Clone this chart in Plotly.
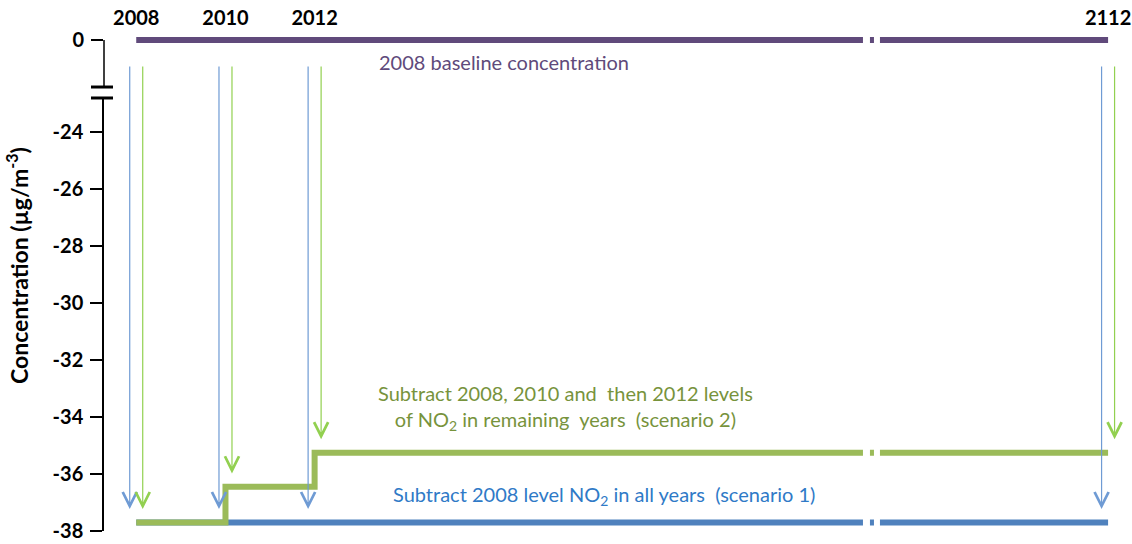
import plotly.graph_objects as go

# data
YEARS = [2008, 2010, 2012, 2112]
BASELINE = [0, 0, 0, 0]
SCENARIO1 = [-37.7, -37.7, -37.7, -37.7]
SCENARIO2 = [-37.7, -36.45, -35.25, -35.25]
Y_TICKS = [-38, -36, -34, -32, -30, -28, -26, -24]

PURPLE = "#604a7b"
GREEN = "#9bbb59"
BLUE = "#4f81bd"
ARROW_BLUE = "#6f9bd4"
ARROW_GREEN = "#92d050"
FONT = "Lato"

X_RANGE = ["2007-04-12", "2112-04-24"]
X_BREAK = ["2024-07-01", "2106-09-15"]
Y_RANGE = [-38, -22.807]
Y2_RANGE = [-1.649, 0.351]
ARROW_TOP = -21.65
ARROW_GAP = 0.47


def yr(y):
    return f"{y}-01-01"


xs = [yr(y) for y in YEARS]

fig = go.Figure()
fig.add_trace(go.Scatter(x=xs, y=BASELINE, xaxis="x", yaxis="y2", mode="lines",
                         line=dict(color=PURPLE, width=6), hoverinfo="skip"))
fig.add_trace(go.Scatter(x=xs, y=SCENARIO1, xaxis="x", yaxis="y", mode="lines",
                         line=dict(color=BLUE, width=6, shape="hv"), hoverinfo="skip"))
fig.add_trace(go.Scatter(x=xs, y=SCENARIO2, xaxis="x", yaxis="y", mode="lines",
                         line=dict(color=GREEN, width=6, shape="hv"), hoverinfo="skip"))

# arrows: blue = scenario 1, green = scenario 2
annotations = []
for x, s1, s2 in zip(xs, SCENARIO1, SCENARIO2):
    for level, col, shift in [(s1, ARROW_BLUE, -6.5), (s2, ARROW_GREEN, 6.5)]:
        annotations.append(dict(
            x=x, y=level + ARROW_GAP, ax=x, ay=ARROW_TOP,
            xref="x", yref="y", axref="x", ayref="y", xshift=shift,
            text="", showarrow=True, arrowhead=5, arrowsize=2.3,
            arrowwidth=1.2, arrowcolor=col, standoff=0,
        ))

annotations += [
    dict(x="2016-04-01", y=-0.77, xref="x", yref="y2", showarrow=False,
         text="2008 baseline concentration", font=dict(family=FONT, size=20, color=PURPLE)),
    dict(x="2017-08-15", y=-33.68, xref="x", yref="y", showarrow=False,
         text="Subtract 2008, 2010 and  then 2012 levels<br>of NO<sub>2</sub> in remaining  years  (scenario 2)",
         font=dict(family=FONT, size=20, color="#77933c")),
    dict(x="2018-07-01", y=-36.77, xref="x", yref="y", showarrow=False,
         text="Subtract 2008 level NO<sub>2</sub> in all years  (scenario 1)",
         font=dict(family=FONT, size=20, color="#2f7ac7")),
    dict(x=-0.0845, y=0.531, xref="paper", yref="paper", showarrow=False, textangle=-90,
         xanchor="center", yanchor="middle",
         text="<b>Concentration (µg/m<sup>-3</sup>)</b>",
         font=dict(family=FONT, size=23, color="black")),
]

shapes = [
    # top part of the y axis line
    dict(type="line", xref="paper", yref="y2", x0=0, x1=0, y0=0, y1=Y2_RANGE[0],
         line=dict(color="black", width=1.5)),
    # axis break marks
    dict(type="line", xref="paper", yref="y2 domain", xsizemode="pixel", xanchor=0,
         x0=-13, x1=9, y0=0, y1=0, line=dict(color="black", width=3)),
    dict(type="line", xref="paper", yref="y domain", xsizemode="pixel", xanchor=0,
         x0=-13, x1=9, y0=1, y1=1, line=dict(color="black", width=3)),
]
# gaps in the lines at the x break
for yref, level in [("y2", BASELINE[-1]), ("y", SCENARIO2[-1]), ("y", SCENARIO1[-1])]:
    for g0, g1 in [(-9, -2), (2, 8)]:
        shapes.append(dict(type="rect", xref="x", yref=yref, xsizemode="pixel",
                           ysizemode="pixel", xanchor=X_BREAK[0], yanchor=level,
                           x0=g0, x1=g1, y0=-6, y1=6, fillcolor="white",
                           line=dict(width=0), layer="above"))

tick_font = dict(family=FONT, size=20, color="black", weight="bold")

fig.update_layout(
    width=1132, height=544,
    paper_bgcolor="white", plot_bgcolor="white",
    showlegend=False,
    margin=dict(l=104, r=10, t=30, b=13, autoexpand=False),
    font=dict(family=FONT, color="black"),
    xaxis=dict(
        type="date", range=X_RANGE, rangebreaks=[dict(bounds=X_BREAK)],
        side="top", anchor="y2", tickvals=xs, ticktext=[str(y) for y in YEARS],
        ticks="", showgrid=False, zeroline=False, showline=False, automargin=False,
        tickfont=tick_font,
    ),
    yaxis=dict(
        domain=[0, 0.8643], range=Y_RANGE, tickvals=Y_TICKS,
        ticktext=[str(v) for v in Y_TICKS], anchor="x", automargin=False,
        showline=True, linecolor="black", linewidth=1.5,
        ticks="outside", ticklen=12, tickwidth=1.5, tickcolor="black",
        showgrid=False, zeroline=False, ticklabelstandoff=3,
        tickfont=tick_font,
    ),
    yaxis2=dict(
        domain=[0.8862, 1], range=Y2_RANGE, tickvals=[0], ticktext=["0"],
        anchor="x", automargin=False,
        showline=False, ticks="outside", ticklen=12, tickwidth=1.5, tickcolor="black",
        showgrid=False, zeroline=False, ticklabelstandoff=3,
        tickfont=tick_font,
    ),
    annotations=annotations,
    shapes=shapes,
)

# drop the default 8px page margin so the figure fills the window
fig.write_html("out.html", config={"displayModeBar": False},
               post_script="document.body.style.margin = '0';")
